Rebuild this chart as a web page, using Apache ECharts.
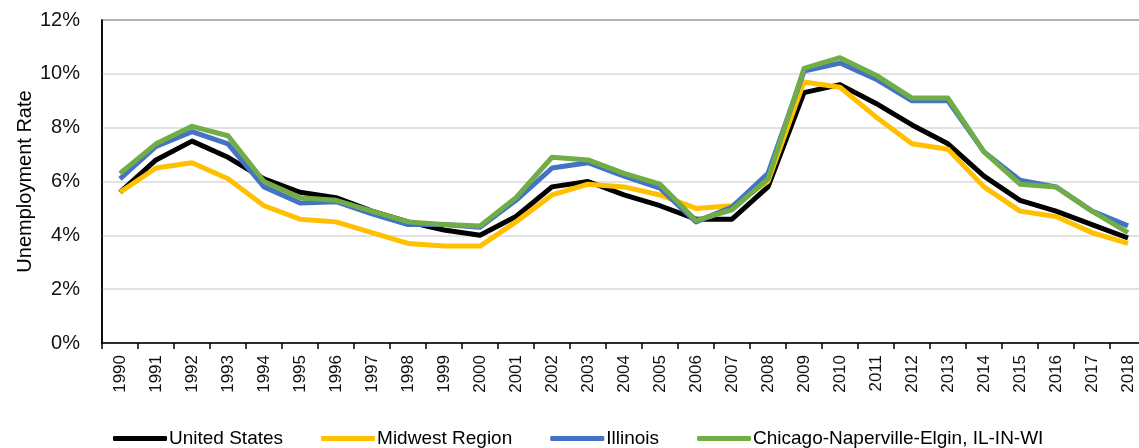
<!DOCTYPE html>
<html><head><meta charset="utf-8">
<script src="https://cdn.jsdelivr.net/npm/echarts@6/dist/echarts.min.js"></script>
<style>html,body{margin:0;padding:0;background:#fff}#c{width:1139px;height:448px}</style>
</head><body><div id="c"></div>
<script>
var years = ['1990','1991','1992','1993','1994','1995','1996','1997','1998','1999','2000','2001','2002','2003','2004','2005','2006','2007','2008','2009','2010','2011','2012','2013','2014','2015','2016','2017','2018'];
var unitedStates = [5.6,6.8,7.5,6.9,6.1,5.6,5.4,4.9,4.5,4.2,4.0,4.7,5.8,6.0,5.5,5.1,4.6,4.6,5.8,9.3,9.6,8.9,8.1,7.4,6.2,5.3,4.9,4.4,3.9];
var midwest = [5.6,6.5,6.7,6.1,5.1,4.6,4.5,4.1,3.7,3.6,3.6,4.5,5.5,5.9,5.8,5.5,5.0,5.1,6.0,9.7,9.5,8.4,7.4,7.2,5.8,4.9,4.7,4.1,3.7];
var illinois = [6.1,7.3,7.85,7.4,5.8,5.2,5.25,4.8,4.4,4.4,4.3,5.3,6.5,6.7,6.2,5.75,4.5,5.05,6.3,10.1,10.4,9.8,9.0,9.0,7.1,6.05,5.8,4.9,4.35];
var chicago = [6.3,7.4,8.05,7.7,6.0,5.4,5.3,4.9,4.5,4.4,4.35,5.4,6.9,6.8,6.3,5.9,4.55,4.95,6.1,10.2,10.6,9.95,9.1,9.1,7.1,5.9,5.8,4.9,4.1];
var seriesNames = ['United States','Midwest Region','Illinois','Chicago-Naperville-Elgin, IL-IN-WI'];
var yTicks = {min:0, max:12, interval:2};

var FONT = '"Liberation Sans", Arial, sans-serif';
var colors = ['#000000','#FFC000','#4472C4','#70AD47'];
var datas = [unitedStates, midwest, illinois, chicago];

var chart = echarts.init(document.getElementById('c'), null, {renderer:'canvas'});
chart.setOption({
  animation:false,
  color: colors,
  grid:{left:102, top:20, width:1044, height:323, containLabel:false, outerBoundsMode:'none',
        show:true, borderColor:'#000', borderWidth:1.5, backgroundColor:'transparent'},
  legend:{
    left:108, top:424, icon:'roundRect', itemWidth:54, itemHeight:5, itemGap:38,
    textStyle:{fontFamily:FONT, fontSize:19, color:'#000', padding:[0,0,0,-3]},
    data: seriesNames
  },
  xAxis:{
    type:'category', data:years, boundaryGap:true,
    axisLine:{lineStyle:{color:'#000', width:1.5}},
    axisTick:{show:true, length:6, lineStyle:{color:'#000', width:1.5}},
    axisLabel:{rotate:90, fontFamily:FONT, fontSize:17, color:'#111', margin:12, interval:0}
  },
  yAxis:{
    type:'value', min:yTicks.min, max:yTicks.max, interval:yTicks.interval,
    name:'Unemployment Rate', nameLocation:'middle', nameGap:67, nameRotate:90, nameMoveOverlap:false,
    nameTextStyle:{fontFamily:FONT, fontSize:20, color:'#000'},
    axisLine:{show:true, lineStyle:{color:'#000', width:1.5}},
    axisTick:{show:false},
    splitLine:{lineStyle:{color:'#d9d9d9', width:1.5}},
    axisLabel:{formatter:'{value}%', fontFamily:FONT, fontSize:20, color:'#111', margin:22}
  },
  series: seriesNames.map(function(n,i){
    return {name:n, type:'line', data:datas[i], showSymbol:false, symbol:'none',
      lineStyle:{width:5, color:colors[i], join:'round'}, z:2+i};
  })
});
</script></body></html>
